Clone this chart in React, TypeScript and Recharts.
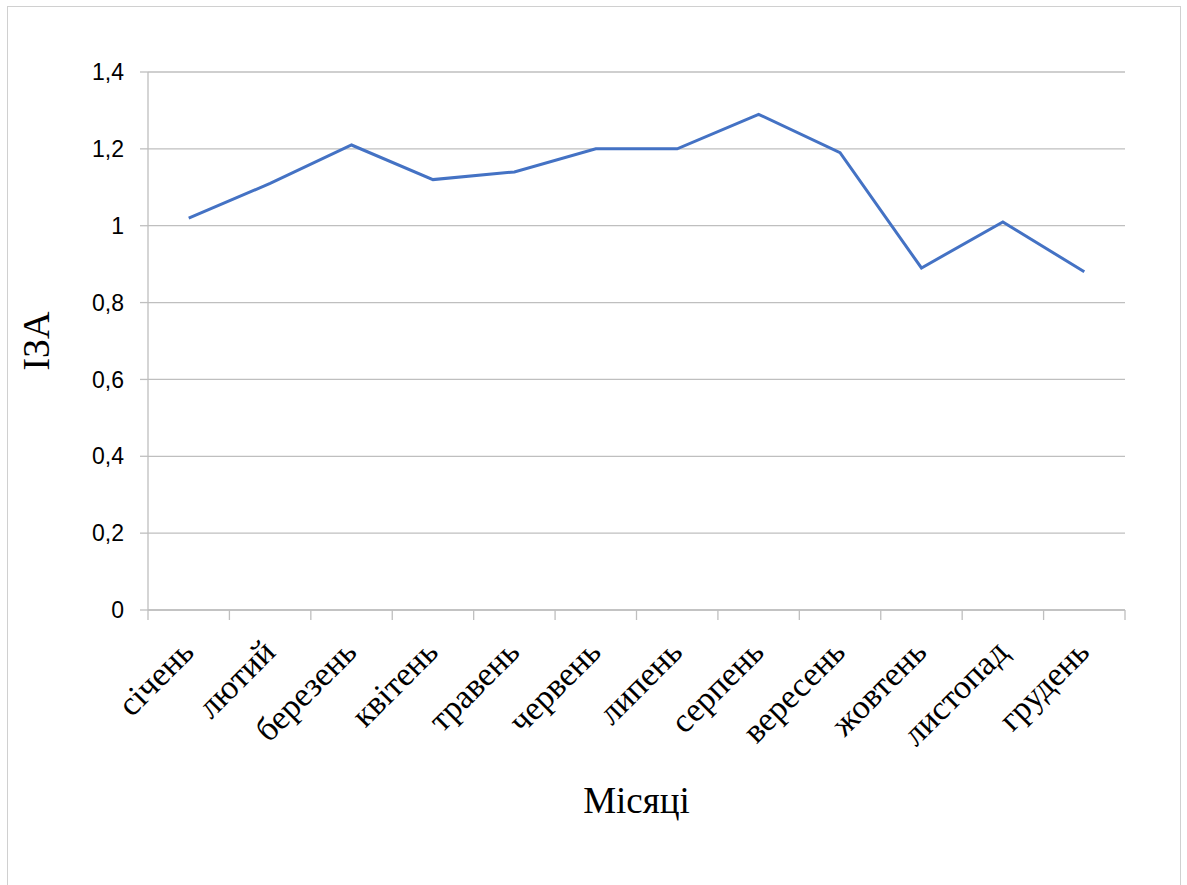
import React from 'react';
import { LineChart, Line, XAxis, YAxis, CartesianGrid } from 'recharts';

const months = ['січень', 'лютий', 'березень', 'квітень', 'травень', 'червень', 'липень', 'серпень', 'вересень', 'жовтень', 'листопад', 'грудень'];
const izaValues = [1.02, 1.11, 1.21, 1.12, 1.14, 1.2, 1.2, 1.29, 1.19, 0.89, 1.01, 0.88];
const yTicks = [0, 0.2, 0.4, 0.6, 0.8, 1, 1.2, 1.4];

const data = months.map((m, i) => ({ month: m, value: izaValues[i] }));

const GRAY = '#bfbfbf';
const SERIF = '"Liberation Serif", "Times New Roman", serif';
const SANS = '"Liberation Sans", Arial, sans-serif';

const MonthTick = (props: any) => {
  const { x, y, payload, index } = props;
  const half = payload && payload.offset ? payload.offset : 0;
  const tx = x + 7;
  const ty = y + 44;
  const isLast = index === months.length - 1;
  return (
    <g>
      <line x1={x - half} x2={x - half} y1={y} y2={y + 10} stroke={GRAY} strokeWidth={1.3} />
      {isLast && <line x1={x + half} x2={x + half} y1={y} y2={y + 10} stroke={GRAY} strokeWidth={1.3} />}
      <text
        x={tx}
        y={ty}
        transform={`rotate(-45, ${tx}, ${ty})`}
        textAnchor="end"
        fontFamily={SERIF}
        fontSize={34}
        fill="#000"
      >
        {payload.value}
      </text>
    </g>
  );
};

const YLabel = (props: any) => {
  const vb = props.viewBox || {};
  const cx = 36;
  const cy = (vb.y ?? 72) + (vb.height ?? 538) / 2;
  return (
    <text
      x={cx}
      y={cy}
      transform={`rotate(-90, ${cx}, ${cy})`}
      textAnchor="middle"
      dominantBaseline="central"
      fontFamily={SERIF}
      fontSize={38}
      fill="#000"
    >
      ІЗА
    </text>
  );
};

const XLabel = (props: any) => {
  const vb = props.viewBox || {};
  const cx = (vb.x ?? 148) + (vb.width ?? 977) / 2;
  return (
    <text x={cx} y={813} textAnchor="middle" fontFamily={SERIF} fontSize={37} fill="#000">
      Місяці
    </text>
  );
};

export default function App() {
  return (
    <div style={{ position: 'absolute', left: 0, top: 0, width: 1187, height: 885, background: '#fff', overflow: 'hidden' }}>
      <div
        style={{
          position: 'absolute',
          left: 7,
          top: 6,
          width: 1174,
          height: 900,
          border: '1px solid #d0d0d0',
          boxSizing: 'border-box',
        }}
      />
      <div style={{ position: 'absolute', left: 0, top: 0 }}>
        <LineChart width={1187} height={885} data={data} margin={{ top: 72, right: 62, left: 0, bottom: 75 }}>
          <CartesianGrid vertical={false} stroke={GRAY} strokeWidth={1.3} />
          <XAxis
            xAxisId="cat"
            dataKey="month"
            type="category"
            scale="band"
            height={200}
            tickLine={false}
            tickSize={0}
            tickMargin={0}
            axisLine={{ stroke: GRAY, strokeWidth: 1.3 }}
            interval={0}
            tick={<MonthTick />}
            label={<XLabel />}
          />
          <YAxis
            width={148}
            domain={[0, 1.4]}
            ticks={yTicks}
            tickFormatter={(v: number) => String(v).replace('.', ',')}
            tick={{ fontFamily: SANS, fontSize: 23, fill: '#000' }}
            tickLine={{ stroke: GRAY, strokeWidth: 1.3 }}
            tickSize={8}
            tickMargin={16}
            axisLine={{ stroke: GRAY, strokeWidth: 1.3 }}
            label={<YLabel />}
          />
          <Line
            xAxisId="cat"
            dataKey="value"
            type="linear"
            stroke="#4472c4"
            strokeWidth={3}
            dot={false}
            isAnimationActive={false}
          />
        </LineChart>
      </div>
    </div>
  );
}
